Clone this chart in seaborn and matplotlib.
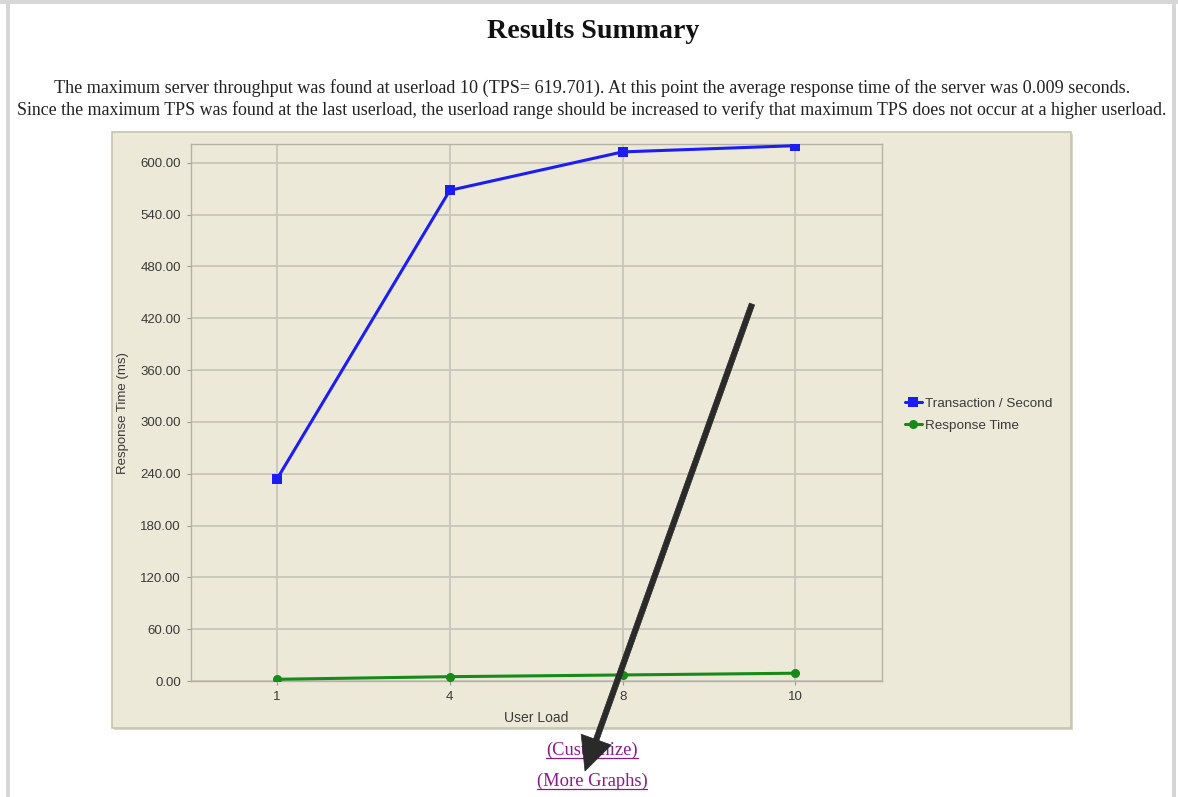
import matplotlib
matplotlib.use("Agg")
import matplotlib.pyplot as plt
from matplotlib.patches import Rectangle, FancyArrowPatch
from matplotlib.lines import Line2D
import numpy as np
import pandas as pd
import seaborn as sns

# ---- data -------------------------------------------------------------
user_load = ["1", "4", "8", "10"]
tps = [234.0, 568.0, 612.5, 619.701]          # transactions per second
response_ms = [2.0, 5.0, 7.0, 9.0]             # average response time (ms)
series_names = ["Transaction / Second", "Response Time"]
y_ticks = [0, 60, 120, 180, 240, 300, 360, 420, 480, 540, 600]

# ---- layout (pixels) --------------------------------------------------
W, H = 1178, 797
BEIGE = "#ECE9D8"


def fx(px):
    return px / W


def fy(py):
    return 1 - py / H


sns.set_theme(style="white")
plt.rcParams["font.family"] = ["Liberation Sans", "DejaVu Sans"]

fig = plt.figure(figsize=(W / 100, H / 100), dpi=100, facecolor="white")

# page frame
for x0, y0, w, h in [(0, fy(4), 1, fy(0) - fy(4)),
                     (fx(6), 0, fx(4), fy(4)),
                     (fx(1172), 0, fx(4), fy(4))]:
    fig.add_artist(Rectangle((x0, y0), w, h, transform=fig.transFigure,
                             facecolor="#d6d6d6", edgecolor="none", zorder=-3))

# chart panel with a soft shadow
fig.add_artist(Rectangle((fx(114), fy(730)), fx(1073) - fx(114), fy(134) - fy(730),
                         transform=fig.transFigure, facecolor="#d9d6c8",
                         edgecolor="none", zorder=-2))
fig.add_artist(Rectangle((fx(112), fy(728)), fx(1071) - fx(112), fy(132) - fy(728),
                         transform=fig.transFigure, facecolor=BEIGE,
                         edgecolor="#c6c3b3", linewidth=1.2, zorder=-1))

# title and summary text
fig.text(fx(593), fy(32), "Results Summary", ha="center", va="center",
         family="Liberation Serif", weight="bold", fontsize=20.2, color="#111111")
fig.text(fx(592), fy(88),
         "The maximum server throughput was found at userload 10 (TPS= 619.701). "
         "At this point the average response time of the server was 0.009 seconds.",
         ha="center", va="center", family="Liberation Serif", fontsize=13.1, color="#222222")
fig.text(fx(592), fy(110),
         "Since the maximum TPS was found at the last userload, the userload range should be "
         "increased to verify that maximum TPS does not occur at a higher userload.",
         ha="center", va="center", family="Liberation Serif", fontsize=12.9, color="#222222")

# ---- plot -------------------------------------------------------------
ax = fig.add_axes([fx(190.7), fy(681), fx(881.7) - fx(190.7), fy(144.3) - fy(681)])
ax.set_zorder(1)
ax.set_facecolor(BEIGE)

df = pd.DataFrame({
    "load": user_load * 2,
    "value": tps + response_ms,
    "series": [series_names[0]] * len(user_load) + [series_names[1]] * len(user_load),
})

sns.lineplot(data=df, x="load", y="value", hue="series", style="series",
             palette={series_names[0]: "#1c1cf5", series_names[1]: "#178a17"},
             markers={series_names[0]: "s", series_names[1]: "o"}, dashes=False,
             sort=False, linewidth=2.2, markersize=6.5, markeredgewidth=0,
             ax=ax, zorder=3)

ax.set_xlim(-0.5, len(user_load) - 0.5)
ax.set_ylim(0, 621.3)
ax.set_yticks(y_ticks)
ax.set_yticklabels([f"{v:.2f}" for v in y_ticks])
ax.grid(True, color="#c8c6bb", linewidth=1.3)
ax.set_axisbelow(True)
for s in ax.spines.values():
    s.set_color("#b4b2a8")
    s.set_linewidth(1.0)

ax.tick_params(axis="both", direction="out", length=3, width=0.8, color="#999999",
               labelsize=9.5, labelcolor="#3a3a3a", pad=4, left=True, bottom=True)
ax.set_xlabel("User Load", fontsize=10, color="#3a3a3a")
ax.set_ylabel("Response Time (ms)", fontsize=9.5, color="#3a3a3a")
ax.xaxis.set_label_coords(0.5, -0.056)
ax.yaxis.set_label_coords(-0.089, 0.5)

handles, labels = ax.get_legend_handles_labels()
ax.legend(handles, labels, loc="upper left", bbox_to_anchor=(fx(898), fy(391)),
          bbox_transform=fig.transFigure, frameon=False, fontsize=9.7,
          handlelength=1.3, handletextpad=0.2, labelspacing=0.7, borderpad=0,
          labelcolor="#3a3a3a")

# ---- links under the chart ---------------------------------------------
link_color = "#8b1a8b"
links = []
for txt, ypx in [("(Customize)", 750), ("(More Graphs)", 781)]:
    links.append(fig.text(fx(592), fy(ypx), txt, ha="center", va="center",
                          family="Liberation Serif", fontsize=13.3, color=link_color))

renderer = fig.canvas.get_renderer()
for t in links:
    bb = t.get_window_extent(renderer=renderer)
    yline = (bb.y0 + 1) / H
    fig.add_artist(Line2D([bb.x0 / W, bb.x1 / W], [yline, yline],
                          transform=fig.transFigure, color=link_color, linewidth=0.9))

# pointer arrow
arrow = FancyArrowPatch((fx(752), fy(304)), (fx(585), fy(771)),
                        transform=fig.transFigure,
                        arrowstyle="simple,head_width=23,head_length=24,tail_width=4",
                        mutation_scale=1, shrinkA=0, shrinkB=0,
                        facecolor="#2a2a2a", edgecolor="#2a2a2a", linewidth=0.5, zorder=10)
fig.add_artist(arrow)

fig.savefig("out.png", dpi=100, facecolor="white")
